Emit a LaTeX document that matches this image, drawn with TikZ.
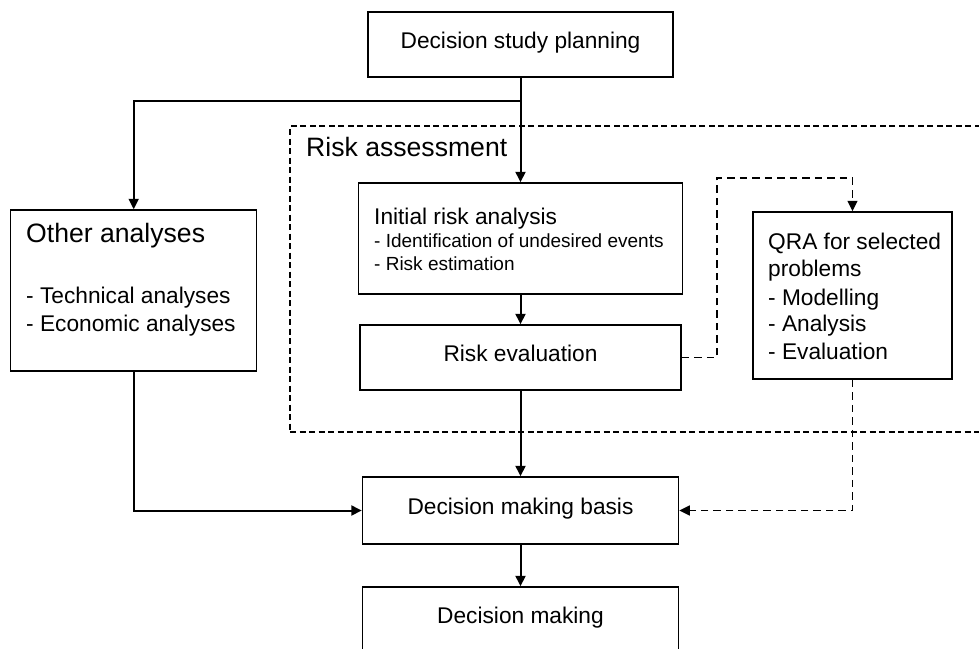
\documentclass[tikz,border=0pt]{standalone}
\usepackage{fontspec}
\setmainfont{Liberation Sans}
\usetikzlibrary{arrows.meta}
\newcommand\fsA{\fontsize{22.7}{27}\selectfont}
\newcommand\fsB{\fontsize{26.6}{31}\selectfont}
\newcommand\fsC{\fontsize{19}{23}\selectfont}
\tikzset{
  boxnode/.style={draw, line width=1.5pt, inner sep=0pt, font=\fsA,
    text height=0.716em, text depth=0pt},
  conn/.style={line width=2pt, -{Triangle[length=10.5pt,width=10pt]}},
  dconn/.style={line width=1.5pt, dash pattern=on 7.5pt off 5pt,
    -{Triangle[length=10.5pt,width=10pt]}},
  dframe/.style={draw, line width=1.2pt, dash pattern=on 6pt off 3.5pt,
    inner sep=0pt},
  txt/.style={anchor=base west, inner sep=0pt},
}
\begin{document}
\begin{tikzpicture}[x=1pt,y=-1pt]
\useasboundingbox (0,0) rectangle (979,648);
\clip (0,0) rectangle (979,648);
\fill[white] (0,0) rectangle (979,648);

% dashed risk assessment frame
\node[dframe, minimum width=710pt, minimum height=306pt] (ra) at (645,279) {};
\node[txt, font=\fsB] (ratxt) at (306,156) {Risk assessment};

% boxes
\node[boxnode, minimum width=305pt, minimum height=65pt] (dsp) at (520.5,44.5) {Decision study planning};
\node[boxnode, minimum width=246pt, minimum height=161pt] (other) at (133.7,290.5) {};
\node[boxnode, minimum width=324pt, minimum height=111pt] (ira) at (520.5,238.5) {};
\node[boxnode, minimum width=321pt, minimum height=65pt] (reval) at (520.5,357.5) {Risk evaluation};
\node[boxnode, minimum width=199pt, minimum height=167pt] (qra) at (852.5,295.5) {};
\node[boxnode, minimum width=316pt, minimum height=67pt] (basis) at (520.5,510.5) {Decision making basis};
\node[boxnode, minimum width=316pt, minimum height=66pt] (dm) at (520.5,620) {Decision making};

% texts in left-aligned boxes
\node[txt, font=\fsB] (o1) at (26,242.7) {Other analyses};
\node[txt, font=\fsA] (o2) at (26,303) {- Technical analyses};
\node[txt, font=\fsA] (o3) at (26,331.7) {- Economic analyses};

\node[txt, font=\fsA] (i1) at (374,224.3) {Initial risk analysis};
\node[txt, font=\fsC] (i2) at (374,247.3) {- Identification of undesired events};
\node[txt, font=\fsC] (i3) at (374,270) {- Risk estimation};

\node[txt, font=\fsA] (q1) at (768,249) {QRA for selected};
\node[txt, font=\fsA] (q2) at (768,276.7) {problems};
\node[txt, font=\fsA] (q3) at (768,305) {- Modelling};
\node[txt, font=\fsA] (q4) at (768,331.7) {- Analysis};
\node[txt, font=\fsA] (q5) at (768,359) {- Evaluation};

% connectors
\coordinate (br) at (520.5,101);
\coordinate (d1) at (717,178);
\draw[conn] (dsp.south) -- (ira.north);
\draw[conn] (br) -| (other.north);
\draw[conn] (ira.south) -- (reval.north);
\draw[conn] (reval.south) -- (basis.north);
\draw[conn] (other.south) |- (basis.west);
\draw[conn] (basis.south) -- (dm.north);
\draw[dconn] (reval.east) -| (d1) -| (qra.north);
\draw[dconn] (qra.south) |- (basis.east);
\end{tikzpicture}
\end{document}
